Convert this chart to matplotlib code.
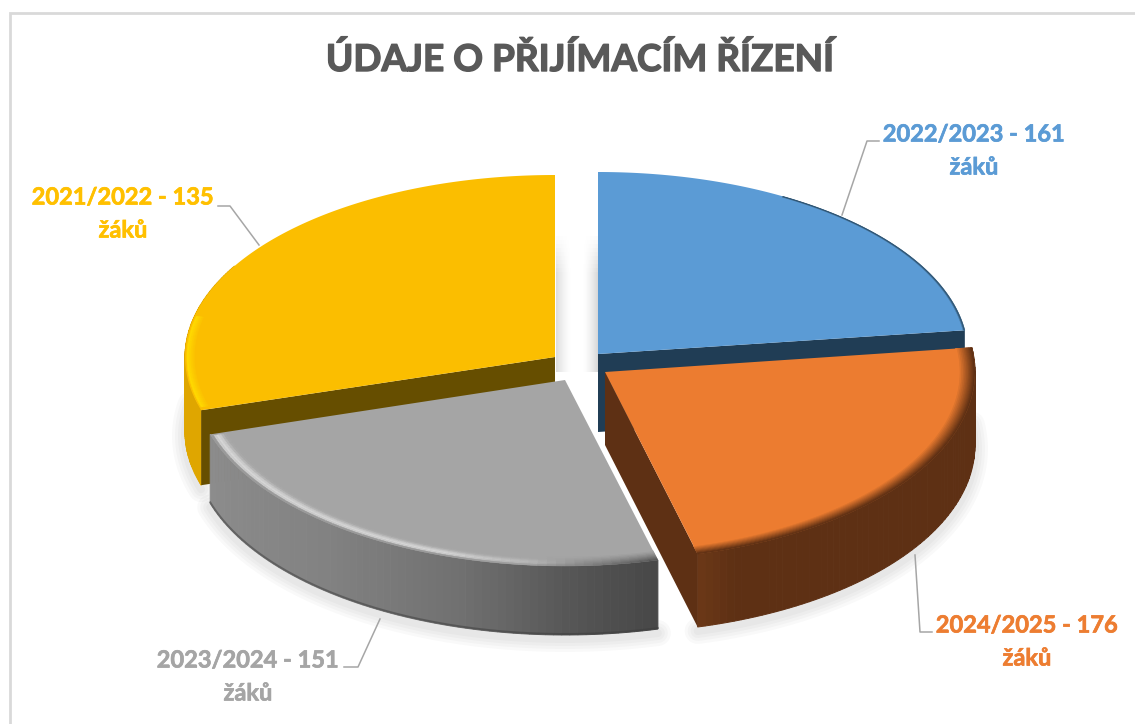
import numpy as np
import matplotlib
matplotlib.use("Agg")
import matplotlib.pyplot as plt
import matplotlib.patheffects as pe
from matplotlib.colors import to_rgb

# ---- data ----
title = "ÚDAJE O PŘIJÍMACÍM ŘÍZENÍ"
seasons = ["2022/2023", "2024/2025", "2023/2024", "2021/2022"]
students = [161, 176, 151, 135]
# Slice sweeps (degrees); they differ from the labels' shares
sweeps = [82.5, 83.0, 87.5, 107.0]
top_colors = ["#5B9BD5", "#EC7C30", "#A5A5A5", "#FBBE00"]
text_colors = ["#5B9BD5", "#ED7D31", "#A5A5A5", "#FFC000"]
side_colors = ["#203D55", "#5E3014", "#888888", "#DFA600"]
cut_colors = ["#203D55", "#5E3014", "#7A7A7A", "#664E00"]

# ---- layout (pixels) ----
apexes = [(598, 354), (605, 372), (565, 380), (555, 357)]
radii_y = [182, 188, 186, 182]
radii_x = [370, 370, 371, 370]
depths = [78, 73, 69, 75]
label_pos = [(974, 134, 167), (1027, 625, 658), (248, 660, 693), (123, 197, 230)]
leaders = [[(842, 215), (867, 141), (879, 141)],
           [(915, 555), (920, 632), (932, 632)],
           [(380, 619), (358, 667), (344, 667)],
           [(259, 245), (230, 206), (218, 206)]]

plt.rcParams['font.family'] = ['Lato', 'DejaVu Sans']
fig = plt.figure(figsize=(11.35, 7.24), dpi=100, facecolor="white")
ax = fig.add_axes([0, 0, 1, 1])
ax.set_xlim(0, 1135)
ax.set_ylim(724, 0)
ax.axis("off")

# frame
ax.plot([10, 10, 1135], [724, 13, 13], color="#D9D9D9", lw=2, solid_joinstyle="miter", zorder=1)


def arc(i, t0, t1, r=1.0, dy=0.0, n=160):
    th = np.radians(np.linspace(t0, t1, n))
    x = apexes[i][0] + r * radii_x[i] * np.sin(th)
    y = apexes[i][1] - r * radii_y[i] * np.cos(th) + dy
    return x, y


def mix(c1, c2, f):
    a, b = np.array(to_rgb(c1)), np.array(to_rgb(c2))
    return tuple(a + (b - a) * f)


starts = np.concatenate([[0], np.cumsum(sweeps)[:-1]])
ends = np.cumsum(sweeps)


def soft_shadow(i, t0, t1, z):
    x, y = arc(i, t0, t1, dy=depths[i] + 4)
    for lw in (26, 20, 14, 8):
        ax.plot(x, y, color="black", alpha=0.022, lw=lw * 0.72, solid_capstyle="round", zorder=z)


def outer_side(i, t0, t1, z, shade=None, n=70):
    edges = np.linspace(t0, t1, n + 1)
    for k in range(n):
        x, y = arc(i, edges[k], edges[k + 1], n=6)
        col = side_colors[i] if shade is None else shade((edges[k] + edges[k + 1]) / 2)
        ax.fill(np.r_[x, x[::-1]], np.r_[y, (y + depths[i])[::-1]], facecolor=col, edgecolor=col,
                lw=0.7, zorder=z)


def cut_side(i, t, z):
    ax_, ay_ = apexes[i]
    x, y = arc(i, t, t, n=1)
    ax.fill([ax_, x[0], x[0], ax_], [ay_, y[0], y[0] + depths[i], ay_ + depths[i]],
            color=cut_colors[i], lw=0, zorder=z)


def top_face(i, z):
    x, y = arc(i, starts[i], ends[i])
    ax.fill(np.r_[apexes[i][0], x], np.r_[apexes[i][1], y], color=top_colors[i], lw=0, zorder=z)


def rim(i, t0, t1, r0, r1, col0, col1, z, steps=10):
    rs = np.linspace(r0, r1, steps + 1)
    for k in range(steps):
        xa, ya = arc(i, t0, t1, r=rs[k])
        xb, yb = arc(i, t0, t1, r=rs[k + 1])
        c = mix(col0, col1, k / max(steps - 1, 1))
        ax.fill(np.r_[xa, xb[::-1]], np.r_[ya, yb[::-1]], facecolor=c, edgecolor=c, lw=0.4, zorder=z)


# soft shading on the walls of the white gap, fading out upwards
gap_rows = np.arange(232, 372, 4)
for row in gap_rows:
    fade = np.clip((row - 232) / 40.0, 0, 1)
    for k in range(16):
        g = (1 - k / 15.0) ** 1.5 * fade
        ax.fill_between([556 + k, 557 + k], row, row + 4, color=mix("#FFFFFF", "#DDDDDD", g), lw=0, zorder=1.5)
        ax.fill_between([597 - k, 598 - k], row, row + 4, color=mix("#FFFFFF", "#D8D8D8", g), lw=0, zorder=1.5)

# blue slice
cut_side(0, ends[0], 2)
top_face(0, 3)
rim(0, starts[0] + 30, ends[0], 0.995, 1.0, "#4A7CA8", "#2F5573", 3.2, steps=2)

# yellow slice
soft_shadow(3, starts[3], 280, 3.5)
outer_side(3, starts[3], ends[3] - 60, 4)
cut_side(3, starts[3], 5)
top_face(3, 6)
rim(3, starts[3] + 1, 283, 0.97, 0.995, "#FBBE00", "#FFD800", 6.2, steps=5)

# gray slice
soft_shadow(2, starts[2], ends[2], 6.5)


def gray_shade(t):
    f = np.clip((t - starts[2]) / sweeps[2], 0, 1)
    stops_f = [0.0, 0.12, 0.35, 0.62, 1.0]
    stops_v = [0.28, 0.32, 0.44, 0.51, 0.55]
    return (np.interp(f, stops_f, stops_v),) * 3


outer_side(2, starts[2], ends[2], 7, shade=gray_shade)
xb, yb = arc(2, starts[2], ends[2], dy=depths[2])
ax.plot(xb, yb - 1, color="#3C3C3C", lw=1.4, alpha=0.5, zorder=7.2)
top_face(2, 8)

# gray rim: dark and soft near the right corner, blending into a highlight further left
seg_edges = np.linspace(starts[2], ends[2] - 0.5, 61)
ring_edges = np.linspace(0.945, 1.0, 9)
for a0, a1 in zip(seg_edges[:-1], seg_edges[1:]):
    mid = (a0 + a1) / 2
    dark = np.clip(1 - (mid - starts[2]) / 20.0, 0, 1)
    light = np.clip((mid - starts[2] - 12) / 22.0, 0, 1)
    for j in range(8):
        r_f = j / 7
        c_dark = mix("#A5A5A5", "#555555", r_f ** 1.3)
        bump = np.exp(-((r_f - 0.72) / 0.28) ** 2)
        c_light = mix("#A5A5A5", "#D6D6D6", bump) if r_f < 0.9 else mix("#BDBDBD", "#9A9A9A", r_f)
        base = np.array(mix(c_dark, "#A5A5A5", 1 - dark))
        c = tuple(base + (np.array(c_light) - np.array(to_rgb("#A5A5A5"))) * light)
        c = tuple(np.clip(c, 0, 1))
        xa, ya = arc(2, a0, a1, r=ring_edges[j], n=4)
        xc, yc = arc(2, a0, a1, r=ring_edges[j + 1], n=4)
        ax.fill(np.r_[xa, xc[::-1]], np.r_[ya, yc[::-1]], facecolor=c, edgecolor=c, lw=0.3, zorder=8.1)

# orange slice
soft_shadow(1, starts[1], ends[1], 8.5)


def orange_shade(t):
    f = np.clip((ends[1] - t) / 6.0, 0, 1)
    return mix("#6B3817", "#5E3014", f)


outer_side(1, starts[1], ends[1], 9, shade=orange_shade)
cut_side(1, ends[1], 9.5)
top_face(1, 10)
rim(1, starts[1], ends[1], 0.955, 1.0, "#EC7C30", "#5E3014", 10.1, steps=10)

# leader lines
for pts in leaders:
    xs, ys = zip(*pts)
    ax.plot(xs, ys, color="#A6A6A6", lw=1.1, zorder=11)

# labels
for season, n, col, (cx, y1, y2) in zip(seasons, students, text_colors, label_pos):
    for txt, yy in ((f"{season} - {n}", y1), ("žáků", y2)):
        t = ax.text(cx, yy, txt, color=col, fontsize=17, fontweight="bold",
                    ha="center", va="center", zorder=12)
        t.set_path_effects([pe.withStroke(linewidth=0.5, foreground=col)])

tt = ax.text(580, 60, title, color="#595959", fontsize=26.6, fontweight="bold",
             ha="center", va="center", zorder=12)
tt.set_path_effects([pe.withStroke(linewidth=1.0, foreground="#595959")])

fig.savefig("out.png", dpi=100, facecolor="white")
